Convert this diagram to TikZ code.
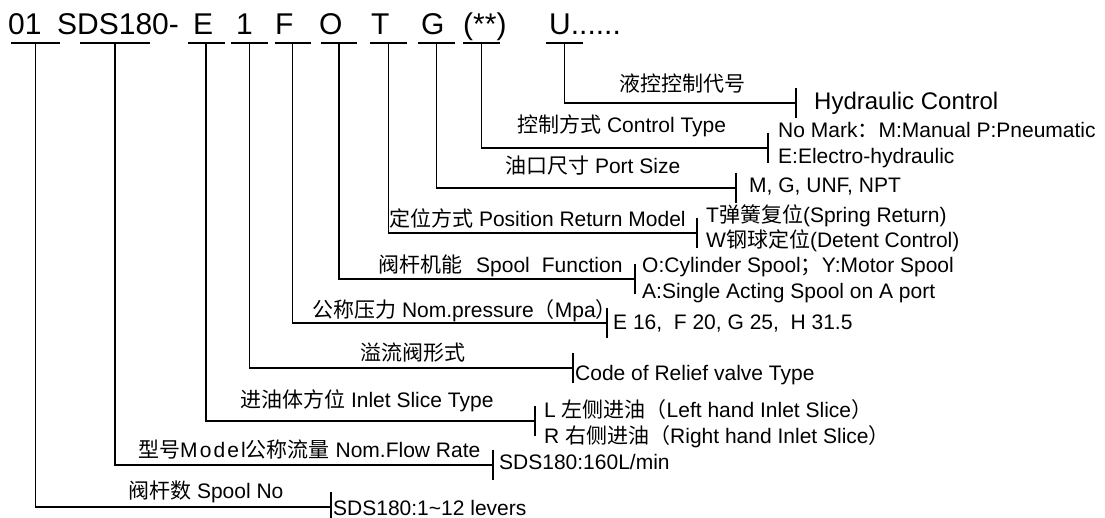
\documentclass[tikz,border=0pt]{standalone}
\usepackage{fontspec}
\setmainfont{Liberation Sans}
\newfontfamily\cjk{Noto Sans CJK SC}
\newfontfamily\widefont[LetterSpace=10]{Liberation Sans}
\newcommand\zh[1]{{\cjk #1}}
\newcommand\codefont{\fontsize{30}{34}\selectfont}
\newcommand\txtfont{\fontsize{21}{25}\selectfont}

\begin{document}
\begin{tikzpicture}[x=1pt,y=-1pt]
        \tikzstyle{code}=[font=\codefont,inner sep=0pt,anchor=base west]
        \tikzstyle{item}=[font=\txtfont,inner sep=0pt,anchor=base west]
        \tikzstyle{bar}=[inner sep=0pt,outer sep=0pt,minimum height=0pt]
        \tikzstyle{wire}=[line width=1.3pt]
        \useasboundingbox (0,0) rectangle (1105,518);

        % model code
        \node[code] (cnum) at (8,35) {01};
        \node[code] (cmodel) at (57,35) {SDS180-};
        \node[code] (cinlet) at (193,35) {E};
        \node[code] (crelief) at (236,35) {1};
        \node[code] (cpress) at (275,35) {F};
        \node[code] (cspool) at (319,35) {O};
        \node[code] (cret) at (371,35) {T};
        \node[code] (cport) at (421,35) {G};
        \node[code] (cctrl) at (463,35) {(**)};
        \node[code] (chyd) at (549,35) {U......};

        % underlines
        \node[bar,minimum width=49pt] (unum) at (35.5,43) {};
        \node[bar,minimum width=70pt] (umodel) at (115,43) {};
        \node[bar,minimum width=37pt] (uinlet) at (206,43) {};
        \node[bar,minimum width=37pt] (urelief) at (249.5,43) {};
        \node[bar,minimum width=36pt] (upress) at (292.5,43) {};
        \node[bar,minimum width=36pt] (uspool) at (339,43) {};
        \node[bar,minimum width=37pt] (uret) at (388.5,43) {};
        \node[bar,minimum width=37pt] (uport) at (436.5,43) {};
        \node[bar,minimum width=37pt] (uctrl) at (481.5,43) {};
        \node[bar,minimum width=37pt] (uhyd) at (564.5,43) {};

        % ends of the branches
        \coordinate (thyd) at (796,103);
        \coordinate (tctrl) at (768,148);
        \coordinate (tport) at (736,188);
        \coordinate (tret) at (697,233);
        \coordinate (tspool) at (635,279);
        \coordinate (tpress) at (607,323);
        \coordinate (trelief) at (573,368);
        \coordinate (tinlet) at (535,421);
        \coordinate (tmodel) at (493,465);
        \coordinate (tnum) at (331,507);

        \foreach \n in {num,model,inlet,relief,press,spool,ret,port,ctrl,hyd} {
            \draw[wire] (u\n.west) -- (u\n.east);
            \draw[wire] (u\n.south) |- (t\n);
            \draw[wire] ([yshift=15pt]t\n) -- ([yshift=-15pt]t\n);
        }

        % titles above the branches
        \node[item] (lhyd) at (619,92) {\zh{液控控制代号}};
        \node[item] (lctrl) at (517,133) {\zh{控制方式} Control Type};
        \node[item] (lport) at (505,174) {\zh{油口尺寸} Port Size};
        \node[item] (lret) at (389,227) {\zh{定位方式} Position Return Model};
        \node[item] (lspool) at (378,273) {\zh{阀杆机能}\hspace{14pt}Spool\hspace{12pt}Function};
        \node[item] (lpress) at (312,318) {\zh{公称压力} Nom.pressure\zh{（}Mpa\zh{）}};
        \node[item] (lrelief) at (360,360) {\zh{溢流阀形式}};
        \node[item] (linlet) at (240,407) {\zh{进油体方位} Inlet Slice Type};
        \node[item] (lmodel) at (138,457) {\zh{型号}{\widefont Model}\zh{公称流量} Nom.Flow Rate};
        \node[item] (lnum) at (128,498) {\zh{阀杆数} Spool No};

        % options
        \node[item,font=\fontsize{24}{28}\selectfont] (hydA) at (814,110) {Hydraulic Control};
        \node[item] (ctrlA) at (778,138) {No Mark\zh{：}M:Manual P:Pneumatic};
        \node[item] (ctrlB) at (778,164) {E:Electro-hydraulic};
        \node[item] (portA) at (749,193) {M, G, UNF, NPT};
        \node[item] (retA) at (706,223) {T\zh{弹簧复位}(Spring Return)};
        \node[item] (retB) at (706,248) {W\zh{钢球定位}(Detent Control)};
        \node[item] (spoolA) at (642,273) {O:Cylinder Spool\zh{；}Y:Motor Spool};
        \node[item] (spoolB) at (642,299) {A:Single Acting Spool on A port};
        \node[item] (pressA) at (613,330) {E 16,\ \ F 20, G 25,\ \ H 31.5};
        \node[item] (reliefA) at (575,380) {Code of Relief valve Type};
        \node[item] (inletA) at (544,417) {L \zh{左侧进油（}Left hand Inlet Slice\zh{）}};
        \node[item] (inletB) at (544,443) {R \zh{右侧进油（}Right hand Inlet Slice\zh{）}};
        \node[item] (modelA) at (499,469) {SDS180:160L/min};
        \node[item] (numA) at (333,515) {SDS180:1\textasciitilde 12 levers};
\end{tikzpicture}
\end{document}
